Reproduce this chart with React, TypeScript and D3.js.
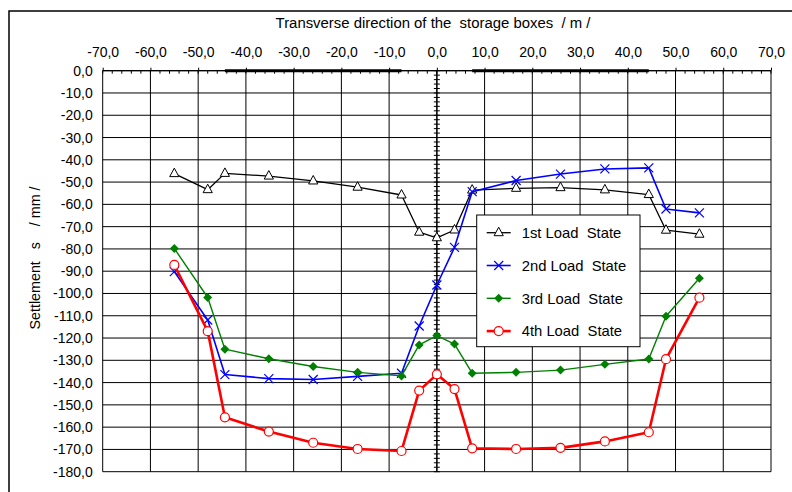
import React, { useRef, useEffect } from 'react';
import * as d3 from 'd3';

// positions along the transverse direction (m)
const positions = [-55, -48, -44.4, -35.2, -25.9, -16.6, -7.4, -3.7, 0, 3.7, 7.4, 16.6, 25.9, 35.2, 44.4, 48, 55];

const load1 = [-46.2, -53.4, -46.1, -47.3, -49.5, -52.3, -55.8, -72.5, -75.0, -71.5, -53.6, -52.8, -52.5, -53.5, -55.6, -71.6, -73.4];
const load2 = [-90.2, -111.9, -136.4, -138.2, -138.6, -137.2, -135.8, -114.6, -96.2, -79.3, -54.3, -49.3, -46.4, -44.1, -43.6, -62.1, -63.8];
const load3 = [-79.8, -101.8, -125.0, -129.3, -132.8, -135.4, -137.0, -123.1, -118.9, -122.7, -135.8, -135.4, -134.4, -131.8, -129.4, -110.2, -93.2];
const load4 = [-87.2, -116.9, -155.6, -162.0, -167.0, -169.8, -170.7, -143.6, -136.3, -142.9, -169.5, -169.8, -169.3, -166.4, -162.3, -129.5, -101.9];

// storage box extents marked on the top axis
const boxes = [[-44.4, -7.4], [7.4, 44.4]];

const xTicks = d3.range(-70, 71, 10);
const yTicks = d3.range(-180, 1, 10);

const legendLabels = ['1st Load  State', '2nd Load  State', '3rd Load  State', '4th Load  State'];

const series = [
  { values: load1, color: '#000000', width: 1.3, marker: 'triangle' },
  { values: load2, color: '#0000ff', width: 1.6, marker: 'cross' },
  { values: load3, color: '#008000', width: 1.4, marker: 'diamond' },
  { values: load4, color: '#ff0000', width: 2.6, marker: 'circle' },
];

const W = 792, H = 492;
const FONT = '"Liberation Sans", Arial, sans-serif';
const fmt = (d: number) => d.toFixed(1).replace('.', ',');

function drawMarker(g: any, type: string, color: string) {
  if (type === 'triangle') {
    g.append('path').attr('d', 'M0,-5.5L4.6,3L-4.6,3Z')
      .attr('fill', '#fff').attr('stroke', color).attr('stroke-width', 1);
  } else if (type === 'cross') {
    g.append('path').attr('d', 'M-4.5,-4.5L4.5,4.5M-4.5,4.5L4.5,-4.5')
      .attr('stroke', color).attr('stroke-width', 1.2).attr('fill', 'none');
  } else if (type === 'diamond') {
    g.append('path').attr('d', 'M0,-4.5L4.5,0L0,4.5L-4.5,0Z').attr('fill', color);
  } else {
    g.append('circle').attr('r', 4.5)
      .attr('fill', '#fff').attr('stroke', color).attr('stroke-width', 1.2);
  }
}

function Chart() {
  const ref = useRef<SVGSVGElement>(null);

  useEffect(() => {
    const svg = d3.select(ref.current);
    svg.selectAll('*').remove();

    const x = d3.scaleLinear().domain([-70, 70]).range([102.7, 771]);
    const y = d3.scaleLinear().domain([-180, 0]).range([471.7, 70.7]);

    svg.append('rect').attr('width', W).attr('height', H).attr('fill', '#fff');

    // outer frame
    svg.append('path').attr('d', `M9,${H}V11H${W}`)
      .attr('fill', 'none').attr('stroke', '#000').attr('stroke-width', 1.5);

    // grid
    const grid = svg.append('g').attr('stroke', '#000').attr('stroke-width', 1);
    grid.selectAll('.v').data(xTicks).enter().append('line')
      .attr('x1', d => x(d)).attr('x2', d => x(d))
      .attr('y1', y(0)).attr('y2', y(-180));
    grid.selectAll('.h').data(yTicks).enter().append('line')
      .attr('x1', x(-70)).attr('x2', x(70))
      .attr('y1', d => y(d)).attr('y2', d => y(d));

    // top axis
    const top = svg.append('g').attr('transform', `translate(0,${y(0)})`)
      .call(d3.axisTop(x).tickValues(xTicks).tickSize(3).tickPadding(11).tickFormat(fmt as any));
    top.select('.domain').remove();
    top.selectAll('text').attr('font-size', 14).attr('font-family', FONT).attr('fill', '#000');
    top.append('line').attr('x1', x(-70)).attr('x2', x(70)).attr('stroke', '#000').attr('stroke-width', 1.2);
    top.selectAll('.minor').data(d3.range(-70, 71, 2)).enter().append('line')
      .attr('x1', d => x(d)).attr('x2', d => x(d)).attr('y1', 0).attr('y2', 3)
      .attr('stroke', '#000');
    top.selectAll('.box').data(boxes).enter().append('line')
      .attr('x1', d => x(d[0])).attr('x2', d => x(d[1]))
      .attr('stroke', '#000').attr('stroke-width', 3);

    // left axis labels
    const left = svg.append('g').attr('transform', `translate(${x(-70)},0)`)
      .call(d3.axisLeft(y).tickValues(yTicks).tickSize(0).tickPadding(10).tickFormat(fmt as any));
    left.select('.domain').remove();
    left.selectAll('text').attr('font-size', 14).attr('font-family', FONT).attr('fill', '#000');

    // center vertical axis at x = 0
    const cx = x(0);
    svg.append('line').attr('x1', cx).attr('x2', cx).attr('y1', y(0)).attr('y2', y(-180))
      .attr('stroke', '#000').attr('stroke-width', 1.2);
    svg.selectAll('.cticks').data(d3.range(-180, 1, 2)).enter().append('line')
      .attr('x1', cx - 3).attr('x2', cx + 3)
      .attr('y1', d => y(d)).attr('y2', d => y(d))
      .attr('stroke', '#000').attr('stroke-width', 1);

    // titles
    svg.append('text').attr('x', 433).attr('y', 28).attr('text-anchor', 'middle')
      .attr('font-size', 14.9).attr('font-family', FONT).style('white-space', 'pre')
      .text('Transverse direction of the  storage boxes  / m /');
    svg.append('text').attr('transform', 'translate(40,258) rotate(-90)').attr('text-anchor', 'middle')
      .attr('font-size', 14.3).attr('font-family', FONT).style('white-space', 'pre')
      .text('Settlement   s    / mm /');

    // series
    const line = d3.line<number>().x((d, i) => x(positions[i])).y(d => y(d));
    series.forEach(s => {
      svg.append('path').attr('d', line(s.values))
        .attr('fill', 'none').attr('stroke', s.color).attr('stroke-width', s.width)
        .attr('stroke-linejoin', 'round');
      s.values.forEach((v, i) => {
        const g = svg.append('g').attr('transform', `translate(${x(positions[i])},${y(v)})`);
        drawMarker(g, s.marker, s.color);
      });
    });

    // legend
    const lg = svg.append('g').attr('transform', 'translate(476.7,215)');
    lg.append('rect').attr('width', 163.3).attr('height', 131.7)
      .attr('fill', '#fff').attr('stroke', '#000').attr('stroke-width', 1);
    series.forEach((s, i) => {
      const yy = 17.7 + i * 32.8;
      lg.append('line').attr('x1', 10).attr('x2', 34).attr('y1', yy).attr('y2', yy)
        .attr('stroke', s.color).attr('stroke-width', s.width);
      drawMarker(lg.append('g').attr('transform', `translate(22,${yy})`), s.marker, s.color);
      lg.append('text').attr('x', 45).attr('y', yy).attr('dy', '0.36em')
        .attr('font-size', 14.8).attr('font-family', FONT).style('white-space', 'pre')
        .text(legendLabels[i]);
    });
  }, []);

  return <svg ref={ref} width={W} height={H} style={{ display: 'block' }} />;
}

export default function App() {
  return (
    <div style={{ position: 'absolute', left: 0, top: 0 }}>
      <Chart />
    </div>
  );
}
